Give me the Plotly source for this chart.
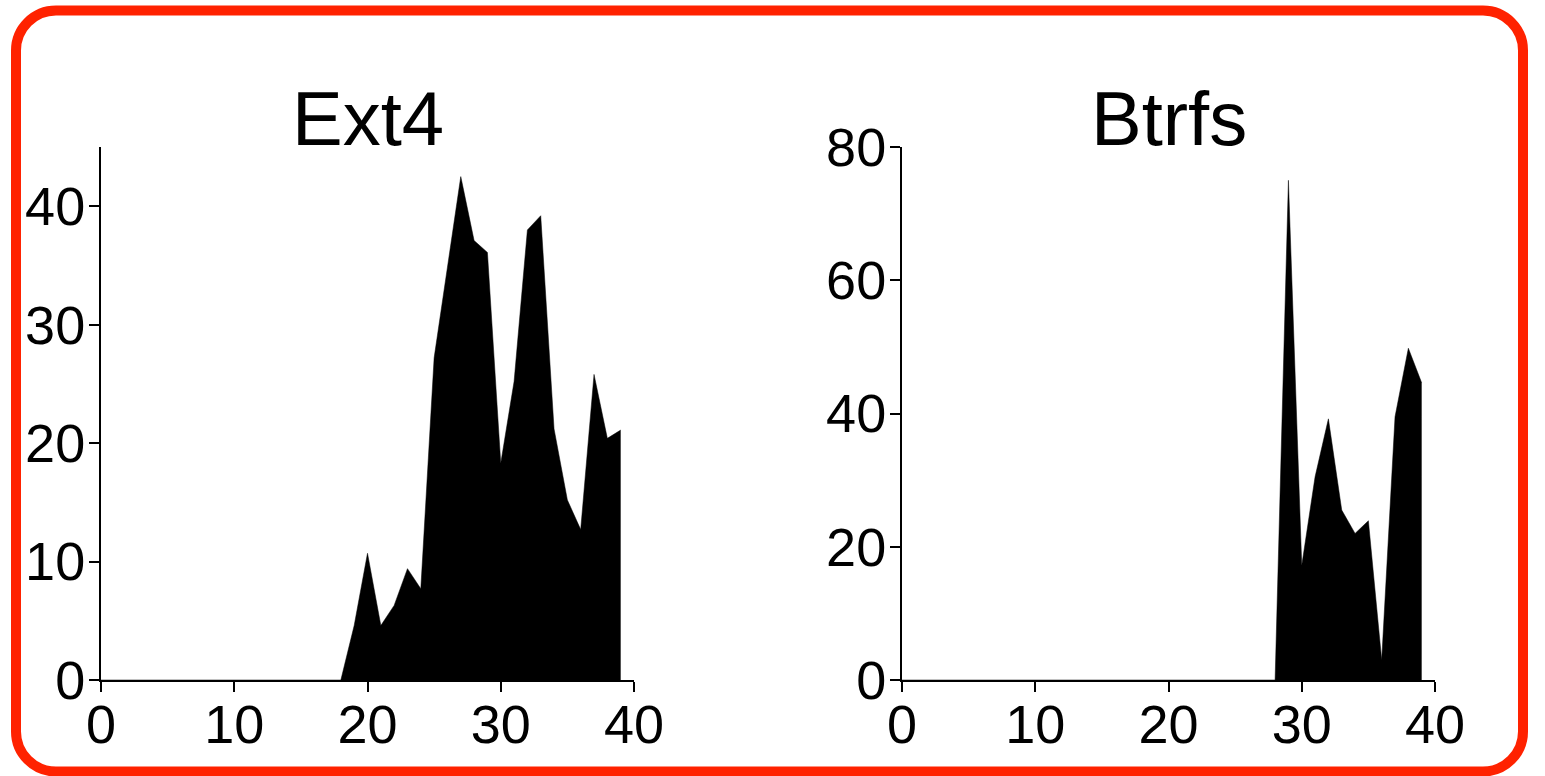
import plotly.graph_objects as go

W, H = 1545, 776

# Per-step counts (x = 0..39) for each filesystem
steps = list(range(40))
ext4_vals = [0] * 18 + [0, 4.6, 10.7, 4.6, 6.3, 9.4, 7.7, 27.2, 34.8, 42.5,
                        37.1, 36.1, 18.3, 25.2, 38.0, 39.2, 21.2, 15.2, 12.7, 25.8,
                        20.4, 21.1]
btrfs_vals = [0] * 28 + [0, 75.0, 17.2, 30.5, 39.2, 25.5, 22.0, 23.9, 3.0, 39.5,
                         49.8, 44.6]

titles = ["Ext4", "Btrfs"]
x_ticks = [0, 10, 20, 30, 40]
ext4_yticks = [0, 10, 20, 30, 40]
btrfs_yticks = [0, 20, 40, 60, 80]

FONT = "Liberation Sans, Arial, Helvetica, sans-serif"


def px_x(p):
    return p / W


def px_y(p):
    return 1 - p / H


fig = go.Figure()

fig.add_trace(go.Scatter(x=steps, y=ext4_vals, mode="lines", fill="tozeroy",
                         fillcolor="black", line=dict(color="black", width=0.5),
                         xaxis="x", yaxis="y", showlegend=False, hoverinfo="skip"))
fig.add_trace(go.Scatter(x=steps, y=btrfs_vals, mode="lines", fill="tozeroy",
                         fillcolor="black", line=dict(color="black", width=0.5),
                         xaxis="x2", yaxis="y2", showlegend=False, hoverinfo="skip"))

y_dom = [px_y(680), px_y(147)]
axis_common = dict(showline=True, linecolor="black", linewidth=2, ticks="outside",
                   ticklen=10, tickwidth=2, tickcolor="black", showgrid=False,
                   zeroline=False, mirror=False, automargin=False,
                   tickfont=dict(family=FONT, size=54, color="black"))
x_common = dict(ticklabelstandoff=-14, **axis_common)
y_common = dict(ticklabelstandoff=-7, **axis_common)

fig.update_layout(
    width=W, height=H,
    margin=dict(l=0, r=0, t=0, b=0),
    paper_bgcolor="white", plot_bgcolor="white",
    xaxis=dict(domain=[px_x(101), px_x(634)], range=[0, 40], tickvals=x_ticks,
               anchor="y", **x_common),
    yaxis=dict(domain=y_dom, range=[0, 45], tickvals=ext4_yticks, anchor="x",
               **y_common),
    xaxis2=dict(domain=[px_x(902), px_x(1435)], range=[0, 40], tickvals=x_ticks,
                anchor="y2", **x_common),
    yaxis2=dict(domain=y_dom, range=[0, 80], tickvals=btrfs_yticks, anchor="x2",
                **y_common),
)

# Subplot titles
for title, cx in zip(titles, [(101 + 634) / 2, (902 + 1435) / 2]):
    fig.add_annotation(text=title, x=px_x(cx), y=px_y(118), xref="paper", yref="paper",
                       xanchor="center", yanchor="middle", showarrow=False,
                       font=dict(family=FONT, size=76, color="black"))

# Rounded red frame around the whole figure
L, R, T, B, rad = 16, 1523, 10.5, 771.5, 40
k = 0.5523 * rad
path = (
    f"M {px_x(L + rad)},{px_y(T)} L {px_x(R - rad)},{px_y(T)} "
    f"C {px_x(R - rad + k)},{px_y(T)} {px_x(R)},{px_y(T + rad - k)} {px_x(R)},{px_y(T + rad)} "
    f"L {px_x(R)},{px_y(B - rad)} "
    f"C {px_x(R)},{px_y(B - rad + k)} {px_x(R - rad + k)},{px_y(B)} {px_x(R - rad)},{px_y(B)} "
    f"L {px_x(L + rad)},{px_y(B)} "
    f"C {px_x(L + rad - k)},{px_y(B)} {px_x(L)},{px_y(B - rad + k)} {px_x(L)},{px_y(B - rad)} "
    f"L {px_x(L)},{px_y(T + rad)} "
    f"C {px_x(L)},{px_y(T + rad - k)} {px_x(L + rad - k)},{px_y(T)} {px_x(L + rad)},{px_y(T)} Z"
)
fig.add_shape(type="path", path=path, xref="paper", yref="paper",
              line=dict(color="#ff2200", width=10), layer="above")

fig.write_html("out.html")
